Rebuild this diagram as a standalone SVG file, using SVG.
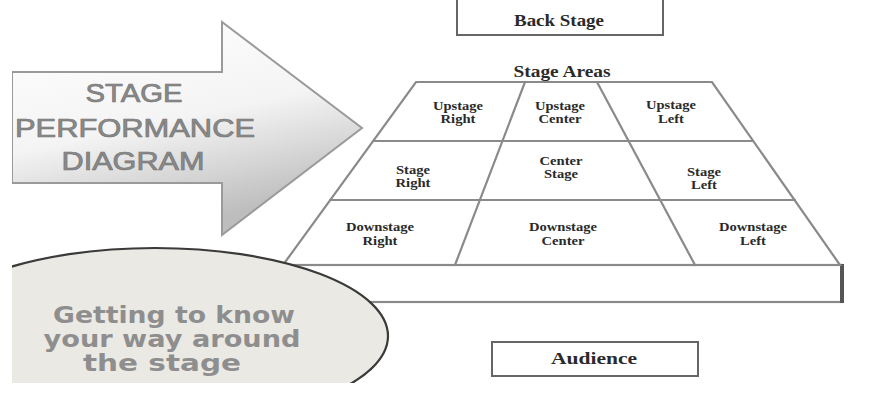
<svg xmlns="http://www.w3.org/2000/svg" width="890" height="393" viewBox="0 0 890 393">
<defs>
<linearGradient id="arrowGrad" x1="0" y1="0" x2="0.35" y2="1">
<stop offset="0" stop-color="#ffffff"/>
<stop offset="0.55" stop-color="#f4f4f4"/>
<stop offset="1" stop-color="#bdbdbd"/>
</linearGradient>
<clipPath id="frame"><rect x="12" y="0" width="878" height="383"/></clipPath>
</defs>
<style>
.grid{stroke:#8a8a8a;stroke-width:2.2;fill:none;stroke-linecap:round}
.box{fill:#fff;stroke:#666;stroke-width:2}
.lbl{font-family:"Liberation Serif","Times New Roman",serif;font-weight:bold;font-size:12px;fill:#2a2a2a;text-anchor:middle}
.big{font-family:"Liberation Serif","Times New Roman",serif;font-weight:bold;font-size:16px;fill:#2a2a2a;text-anchor:middle}
.arr{font-family:"Liberation Sans",Arial,sans-serif;font-size:25px;fill:#8a8a8a;stroke:#777;stroke-width:0.7;text-anchor:middle}
.ell{font-family:"DejaVu Sans","Liberation Sans",sans-serif;font-weight:bold;font-size:23px;fill:#8e8e8e;text-anchor:middle}
</style>
<rect width="890" height="393" fill="#fff"/>

<g id="back-stage">
<rect class="box" x="457" y="-4" width="206" height="39"/>
<text class="big" x="559" y="26" textLength="90" lengthAdjust="spacingAndGlyphs">Back Stage</text>
</g>

<g id="stage-areas-title">
<text class="big" x="562" y="77" font-size="15" textLength="97" lengthAdjust="spacingAndGlyphs">Stage Areas</text>
</g>

<g id="slab">
<rect x="283" y="265" width="559" height="37" fill="#fff" stroke="#8a8a8a" stroke-width="2.2"/>
<line x1="842" y1="264" x2="842" y2="303" stroke="#555" stroke-width="4"/>
</g>

<g id="connectors">
<polygon class="grid" points="416,82 712,82 840,265 283,265" fill="#fff"/>
<line class="grid" x1="373" y1="141" x2="753" y2="141"/>
<line class="grid" x1="330" y1="200" x2="795" y2="200"/>
<line class="grid" x1="525" y1="82" x2="455" y2="265"/>
<line class="grid" x1="597" y1="82" x2="695" y2="265"/>
</g>

<g id="upstage-right"><text class="lbl" x="458" y="110" textLength="50" lengthAdjust="spacingAndGlyphs">Upstage</text><text class="lbl" x="458" y="123" textLength="35" lengthAdjust="spacingAndGlyphs">Right</text></g>
<g id="upstage-center"><text class="lbl" x="560" y="110" textLength="50" lengthAdjust="spacingAndGlyphs">Upstage</text><text class="lbl" x="560" y="123" textLength="43" lengthAdjust="spacingAndGlyphs">Center</text></g>
<g id="upstage-left"><text class="lbl" x="671" y="109" textLength="50" lengthAdjust="spacingAndGlyphs">Upstage</text><text class="lbl" x="671" y="123" textLength="26" lengthAdjust="spacingAndGlyphs">Left</text></g>
<g id="stage-right"><text class="lbl" x="413" y="174" textLength="34" lengthAdjust="spacingAndGlyphs">Stage</text><text class="lbl" x="413" y="187" textLength="35" lengthAdjust="spacingAndGlyphs">Right</text></g>
<g id="center-stage"><text class="lbl" x="561" y="165" textLength="43" lengthAdjust="spacingAndGlyphs">Center</text><text class="lbl" x="561" y="178" textLength="34" lengthAdjust="spacingAndGlyphs">Stage</text></g>
<g id="stage-left"><text class="lbl" x="704" y="176" textLength="34" lengthAdjust="spacingAndGlyphs">Stage</text><text class="lbl" x="704" y="189" textLength="26" lengthAdjust="spacingAndGlyphs">Left</text></g>
<g id="downstage-right"><text class="lbl" x="380" y="231" textLength="68" lengthAdjust="spacingAndGlyphs">Downstage</text><text class="lbl" x="380" y="245" textLength="35" lengthAdjust="spacingAndGlyphs">Right</text></g>
<g id="downstage-center"><text class="lbl" x="563" y="231" textLength="68" lengthAdjust="spacingAndGlyphs">Downstage</text><text class="lbl" x="563" y="245" textLength="43" lengthAdjust="spacingAndGlyphs">Center</text></g>
<g id="downstage-left"><text class="lbl" x="753" y="231" textLength="68" lengthAdjust="spacingAndGlyphs">Downstage</text><text class="lbl" x="753" y="245" textLength="26" lengthAdjust="spacingAndGlyphs">Left</text></g>

<g id="arrow" clip-path="url(#frame)">
<polygon points="12,72 222,72 222,22 362,128 222,235 222,183 12,183" fill="url(#arrowGrad)" stroke="#9a9a9a" stroke-width="2"/>
<text class="arr" x="134" y="102" textLength="97" lengthAdjust="spacingAndGlyphs">STAGE</text>
<text class="arr" x="135" y="137" textLength="240" lengthAdjust="spacingAndGlyphs">PERFORMANCE</text>
<text class="arr" x="133" y="170" textLength="143" lengthAdjust="spacingAndGlyphs">DIAGRAM</text>
</g>

<g id="ellipse" clip-path="url(#frame)">
<ellipse cx="155" cy="336" rx="233" ry="88" fill="#ebe9e3" stroke="#3a3a3a" stroke-width="2.2"/>
<text class="ell" x="174" y="323" textLength="242" lengthAdjust="spacingAndGlyphs">Getting to know</text>
<text class="ell" x="172" y="347" textLength="257" lengthAdjust="spacingAndGlyphs">your way around</text>
<text class="ell" x="162" y="371" textLength="158" lengthAdjust="spacingAndGlyphs">the stage</text>
</g>

<g id="audience">
<rect class="box" x="492" y="342" width="206" height="34"/>
<text class="big" x="594" y="364" textLength="86" lengthAdjust="spacingAndGlyphs">Audience</text>
</g>
</svg>
